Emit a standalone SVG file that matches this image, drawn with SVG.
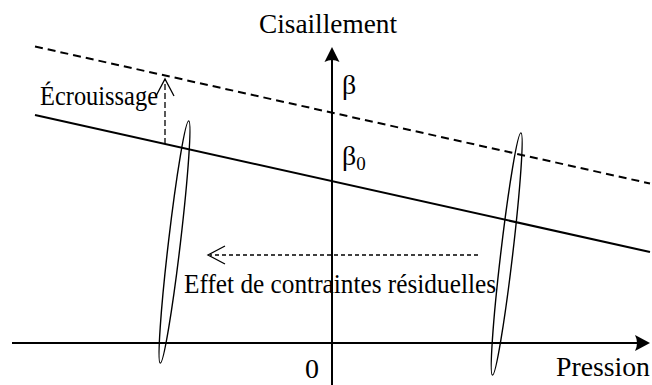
<svg xmlns="http://www.w3.org/2000/svg" width="652" height="385" viewBox="0 0 652 385">
  <style>
    text { font-family: "Liberation Serif", "DejaVu Serif", serif; font-size: 28px; fill: #000; }
    .axis { stroke: #000; stroke-width: 2; fill: none; }
    .line { stroke: #000; stroke-width: 2; fill: none; }
    .dline { stroke: #000; stroke-width: 2; fill: none; stroke-dasharray: 8 5; }
    .ell { stroke: #000; stroke-width: 1.4; fill: none; }
    .thin { stroke: #000; stroke-width: 1.3; fill: none; }
  </style>
  <rect width="652" height="385" fill="#fff"/>
  <g id="axes">
    <line class="axis" x1="12" y1="343" x2="640" y2="343"/>
    <path d="M650,343 L635,335 Q639,343 635,351 Z" fill="#000"/>
    <line class="axis" x1="332" y1="385" x2="332" y2="55"/>
    <path d="M332,47 L324.5,62 Q332,58 339.5,62 Z" fill="#000"/>
    <text x="259" y="33" textLength="138" lengthAdjust="spacingAndGlyphs">Cisaillement</text>
    <text x="556" y="376" textLength="94" lengthAdjust="spacingAndGlyphs">Pression</text>
    <text x="305" y="378">0</text>
  </g>
  <g id="criteria">
    <line class="line" x1="35" y1="115" x2="650" y2="252"/>
    <line class="dline" x1="35" y1="46.5" x2="650" y2="183.5"/>
    <text x="342" y="94">β</text>
    <text x="342" y="165">β<tspan font-size="19" dy="5">0</tspan></text>
  </g>
  <g id="ellipses">
    <ellipse class="ell" cx="174.5" cy="242" rx="6" ry="122" transform="rotate(6.7 174.5 242)"/>
    <ellipse class="ell" cx="506.7" cy="254" rx="6" ry="122" transform="rotate(6.7 506.7 254)"/>
  </g>
  <g id="connectors">
    <line class="thin" x1="165" y1="144" x2="165" y2="80" stroke-dasharray="6 3"/>
    <polyline class="thin" points="156,96 165,79 174,96"/>
    <line class="thin" x1="478" y1="255" x2="210" y2="255" stroke-dasharray="4 3" stroke-width="1"/>
    <polyline class="thin" points="225,246 208,255 225,264"/>
  </g>
  <g id="labels">
    <text x="40" y="105" textLength="118" lengthAdjust="spacingAndGlyphs">Écrouissage</text>
    <text x="184" y="293" textLength="312" lengthAdjust="spacingAndGlyphs">Effet de contraintes résiduelles</text>
  </g>
</svg>
